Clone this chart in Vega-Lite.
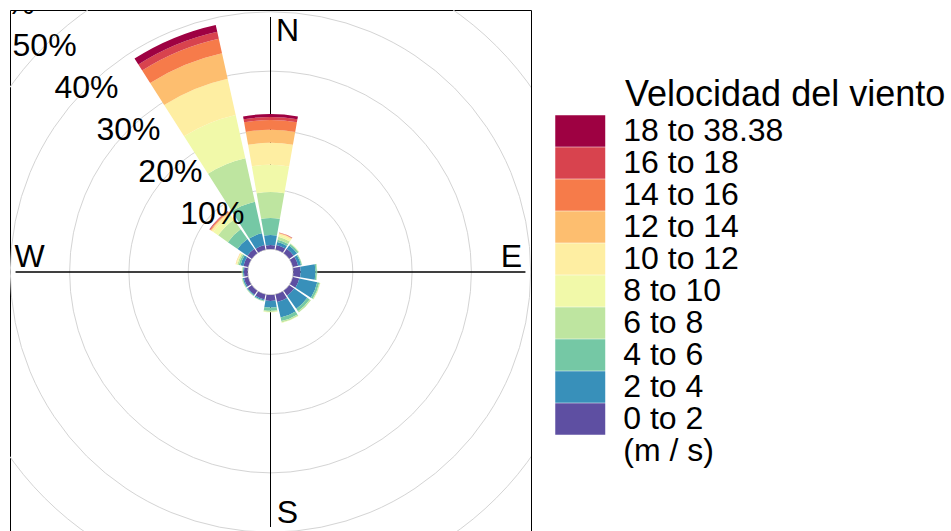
{
  "$schema": "https://vega.github.io/schema/vega-lite/v6.json",
  "width": 521,
  "height": 524,
  "autosize": {"type": "none"},
  "padding": {"left": 10, "top": 10, "right": 420, "bottom": 0},
  "background": "white",
  "view": {"stroke": "black", "strokeWidth": 1, "fill": null},
  "title": {
    "text": "Velocidad del viento",
    "anchor": "start",
    "frame": "group",
    "orient": "top",
    "fontSize": 36,
    "font": "Liberation Sans",
    "fontWeight": "normal",
    "color": "black",
    "baseline": "alphabetic",
    "offset": 0,
    "dx": 615,
    "dy": 132
  },
  "config": {
    "view": {"stroke": "black", "strokeWidth": 1},
    "font": "Liberation Sans"
  },
  "layer": [
    {
      "description": "Percentage grid circles",
      "data": {"values": [{"pct": 10}, {"pct": 20}, {"pct": 30}, {"pct": 40}, {"pct": 50}, {"pct": 60}]},
      "mark": {"type": "arc", "filled": false, "stroke": "#d4d4d4", "strokeWidth": 1, "theta": 0, "theta2": 6.2832, "clip": true},
      "encoding": {
        "radius": {"field": "pct", "type": "quantitative", "stack": null, "scale": {"type": "linear", "domain": [0, 60], "range": [23, 378.8]}}
      }
    },
    {
      "description": "Compass axis lines",
      "data": {"values": [{"a": 0}, {"a": 90}, {"a": 180}, {"a": 270}]},
      "mark": {"type": "arc", "filled": false, "stroke": "black", "strokeWidth": 1},
      "encoding": {
        "theta": {"field": "a", "type": "quantitative", "stack": null, "scale": {"domain": [0, 360], "range": [0, 6.283185307]}},
        "theta2": {"field": "a"},
        "radius": {"datum": 39.1, "type": "quantitative", "scale": {"type": "linear", "domain": [0, 60], "range": [23, 378.8]}}
      }
    },
    {
      "description": "Wind frequency by direction and speed class",
      "data": {"values": [
        {"dir": 0, "bin": "0 to 2", "pct": 0.67}, {"dir": 0, "bin": "2 to 4", "pct": 1.69}, {"dir": 0, "bin": "4 to 6", "pct": 2.87}, {"dir": 0, "bin": "6 to 8", "pct": 4.37}, {"dir": 0, "bin": "8 to 10", "pct": 4.6}, {"dir": 0, "bin": "10 to 12", "pct": 3.7}, {"dir": 0, "bin": "12 to 14", "pct": 2.2}, {"dir": 0, "bin": "14 to 16", "pct": 1.65}, {"dir": 0, "bin": "16 to 18", "pct": 0.51}, {"dir": 0, "bin": "18 to 38.38", "pct": 0.51},
        {"dir": 22.5, "bin": "0 to 2", "pct": 0.8}, {"dir": 22.5, "bin": "2 to 4", "pct": 0.5}, {"dir": 22.5, "bin": "4 to 6", "pct": 0.4}, {"dir": 22.5, "bin": "6 to 8", "pct": 0.5}, {"dir": 22.5, "bin": "8 to 10", "pct": 0.3}, {"dir": 22.5, "bin": "10 to 12", "pct": 0.25}, {"dir": 22.5, "bin": "12 to 14", "pct": 0.1}, {"dir": 22.5, "bin": "14 to 16", "pct": 0.05}, {"dir": 22.5, "bin": "16 to 18", "pct": 0.03}, {"dir": 22.5, "bin": "18 to 38.38", "pct": 0.02},
        {"dir": 45, "bin": "0 to 2", "pct": 0.9}, {"dir": 45, "bin": "2 to 4", "pct": 0.7}, {"dir": 45, "bin": "4 to 6", "pct": 0.3}, {"dir": 45, "bin": "6 to 8", "pct": 0.1}, {"dir": 45, "bin": "8 to 10", "pct": 0.05},
        {"dir": 67.5, "bin": "0 to 2", "pct": 0.9}, {"dir": 67.5, "bin": "2 to 4", "pct": 0.5}, {"dir": 67.5, "bin": "4 to 6", "pct": 0.15}, {"dir": 67.5, "bin": "6 to 8", "pct": 0.05},
        {"dir": 90, "bin": "0 to 2", "pct": 1.2}, {"dir": 90, "bin": "2 to 4", "pct": 2.5}, {"dir": 90, "bin": "4 to 6", "pct": 0.25}, {"dir": 90, "bin": "6 to 8", "pct": 0.07},
        {"dir": 112.5, "bin": "0 to 2", "pct": 1.1}, {"dir": 112.5, "bin": "2 to 4", "pct": 3.1}, {"dir": 112.5, "bin": "4 to 6", "pct": 0.35}, {"dir": 112.5, "bin": "6 to 8", "pct": 0.15}, {"dir": 112.5, "bin": "8 to 10", "pct": 0.05},
        {"dir": 135, "bin": "0 to 2", "pct": 1.0}, {"dir": 135, "bin": "2 to 4", "pct": 2.7}, {"dir": 135, "bin": "4 to 6", "pct": 0.5}, {"dir": 135, "bin": "6 to 8", "pct": 0.25},
        {"dir": 157.5, "bin": "0 to 2", "pct": 1.3}, {"dir": 157.5, "bin": "2 to 4", "pct": 2.7}, {"dir": 157.5, "bin": "4 to 6", "pct": 0.6}, {"dir": 157.5, "bin": "6 to 8", "pct": 0.25}, {"dir": 157.5, "bin": "8 to 10", "pct": 0.07},
        {"dir": 180, "bin": "0 to 2", "pct": 1.0}, {"dir": 180, "bin": "2 to 4", "pct": 1.1}, {"dir": 180, "bin": "4 to 6", "pct": 0.55}, {"dir": 180, "bin": "6 to 8", "pct": 0.2}, {"dir": 180, "bin": "8 to 10", "pct": 0.07},
        {"dir": 202.5, "bin": "0 to 2", "pct": 0.85}, {"dir": 202.5, "bin": "2 to 4", "pct": 0.2}, {"dir": 202.5, "bin": "4 to 6", "pct": 0.1}, {"dir": 202.5, "bin": "6 to 8", "pct": 0.05},
        {"dir": 225, "bin": "0 to 2", "pct": 0.8}, {"dir": 225, "bin": "2 to 4", "pct": 0.15}, {"dir": 225, "bin": "4 to 6", "pct": 0.1}, {"dir": 225, "bin": "6 to 8", "pct": 0.05},
        {"dir": 247.5, "bin": "0 to 2", "pct": 0.7}, {"dir": 247.5, "bin": "2 to 4", "pct": 0.2}, {"dir": 247.5, "bin": "4 to 6", "pct": 0.1}, {"dir": 247.5, "bin": "6 to 8", "pct": 0.1},
        {"dir": 270, "bin": "0 to 2", "pct": 0.6}, {"dir": 270, "bin": "2 to 4", "pct": 0.15}, {"dir": 270, "bin": "4 to 6", "pct": 0.1}, {"dir": 270, "bin": "6 to 8", "pct": 0.1}, {"dir": 270, "bin": "8 to 10", "pct": 0.05},
        {"dir": 292.5, "bin": "0 to 2", "pct": 0.8}, {"dir": 292.5, "bin": "2 to 4", "pct": 0.5}, {"dir": 292.5, "bin": "4 to 6", "pct": 0.3}, {"dir": 292.5, "bin": "6 to 8", "pct": 0.25}, {"dir": 292.5, "bin": "8 to 10", "pct": 0.15}, {"dir": 292.5, "bin": "10 to 12", "pct": 0.1}, {"dir": 292.5, "bin": "12 to 14", "pct": 0.05},
        {"dir": 315, "bin": "0 to 2", "pct": 0.9}, {"dir": 315, "bin": "2 to 4", "pct": 2.0}, {"dir": 315, "bin": "4 to 6", "pct": 2.0}, {"dir": 315, "bin": "6 to 8", "pct": 2.0}, {"dir": 315, "bin": "8 to 10", "pct": 1.0}, {"dir": 315, "bin": "10 to 12", "pct": 0.36}, {"dir": 315, "bin": "12 to 14", "pct": 0.17}, {"dir": 315, "bin": "14 to 16", "pct": 0.14}, {"dir": 315, "bin": "16 to 18", "pct": 0.08}, {"dir": 315, "bin": "18 to 38.38", "pct": 0.05},
        {"dir": 337.5, "bin": "0 to 2", "pct": 0.78}, {"dir": 337.5, "bin": "2 to 4", "pct": 2.02}, {"dir": 337.5, "bin": "4 to 6", "pct": 5.46}, {"dir": 337.5, "bin": "6 to 8", "pct": 7.49}, {"dir": 337.5, "bin": "8 to 10", "pct": 7.49}, {"dir": 337.5, "bin": "10 to 12", "pct": 6.26}, {"dir": 337.5, "bin": "12 to 14", "pct": 4.4}, {"dir": 337.5, "bin": "14 to 16", "pct": 2.5}, {"dir": 337.5, "bin": "16 to 18", "pct": 1.2}, {"dir": 337.5, "bin": "18 to 38.38", "pct": 1.2}
      ]},
      "transform": [
        {"calculate": "indexof(['0 to 2','2 to 4','4 to 6','6 to 8','8 to 10','10 to 12','12 to 14','14 to 16','16 to 18','18 to 38.38'], datum.bin)", "as": "order"},
        {"stack": "pct", "groupby": ["dir"], "sort": [{"field": "order", "order": "ascending"}], "as": ["r0", "r1"]},
        {"calculate": "datum.dir - 10", "as": "t0"},
        {"calculate": "datum.dir + 10", "as": "t1"}
      ],
      "mark": {"type": "arc"},
      "encoding": {
        "theta": {"field": "t0", "type": "quantitative", "stack": null, "scale": {"domain": [0, 360], "range": [0, 6.283185307]}},
        "theta2": {"field": "t1"},
        "radius": {"field": "r1", "type": "quantitative", "stack": null, "scale": {"type": "linear", "domain": [0, 60], "range": [23, 378.8]}},
        "radius2": {"field": "r0"},
        "color": {
          "field": "bin",
          "type": "nominal",
          "scale": {
            "domain": ["18 to 38.38", "16 to 18", "14 to 16", "12 to 14", "10 to 12", "8 to 10", "6 to 8", "4 to 6", "2 to 4", "0 to 2", "(m / s)"],
            "range": ["#9E0142", "#D8434E", "#F67B4A", "#FDBE6F", "#FEEEA2", "#F1F9A9", "#BEE5A0", "#75C8A5", "#3890BA", "#5E4FA2", "#FFFFFF"]
          },
          "legend": {
            "title": null,
            "orient": "none",
            "direction": "vertical",
            "legendX": 554.25,
            "legendY": 105,
            "padding": 0,
            "rowPadding": 0,
            "symbolType": "M-1.587,-1H1.587V1H-1.587Z",
            "symbolSize": 992,
            "symbolStrokeWidth": 0,
            "symbolOpacity": 1,
            "labelFont": "Liberation Sans",
            "labelFontSize": 32,
            "labelColor": "black",
            "labelOffset": 27,
            "labelLimit": 0
          }
        }
      }
    },
    {
      "description": "Percentage labels along the north-west diagonal",
      "data": {"values": [{"pct": 10, "lab": "10%"}, {"pct": 20, "lab": "20%"}, {"pct": 30, "lab": "30%"}, {"pct": 40, "lab": "40%"}, {"pct": 50, "lab": "50%"}, {"pct": 60, "lab": "60%"}]},
      "mark": {"type": "text", "fontSize": 32, "font": "Liberation Sans", "color": "black", "align": "center", "baseline": "middle", "clip": true},
      "encoding": {
        "theta": {"datum": 315, "type": "quantitative", "scale": {"domain": [0, 360], "range": [0, 6.283185307]}},
        "radius": {"field": "pct", "type": "quantitative", "stack": null, "scale": {"type": "linear", "domain": [0, 60], "range": [23, 378.8]}},
        "text": {"field": "lab"}
      }
    },
    {
      "description": "North and south labels",
      "data": {"values": [{"lab": "N", "a": 0}, {"lab": "S", "a": 180}]},
      "mark": {"type": "text", "fontSize": 32, "font": "Liberation Sans", "color": "black", "align": "center", "baseline": "middle", "dx": 17},
      "encoding": {
        "theta": {"field": "a", "type": "quantitative", "scale": {"domain": [0, 360], "range": [0, 6.283185307]}},
        "radius": {"datum": 36.75, "type": "quantitative", "scale": {"type": "linear", "domain": [0, 60], "range": [23, 378.8]}},
        "text": {"field": "lab"}
      }
    },
    {
      "description": "East and west labels",
      "data": {"values": [{"lab": "E", "a": 90}, {"lab": "W", "a": 270}]},
      "mark": {"type": "text", "fontSize": 32, "font": "Liberation Sans", "color": "black", "align": "center", "baseline": "middle", "dy": -15},
      "encoding": {
        "theta": {"field": "a", "type": "quantitative", "scale": {"domain": [0, 360], "range": [0, 6.283185307]}},
        "radius": {"datum": 36.75, "type": "quantitative", "scale": {"type": "linear", "domain": [0, 60], "range": [23, 378.8]}},
        "text": {"field": "lab"}
      }
    }
  ]
}
